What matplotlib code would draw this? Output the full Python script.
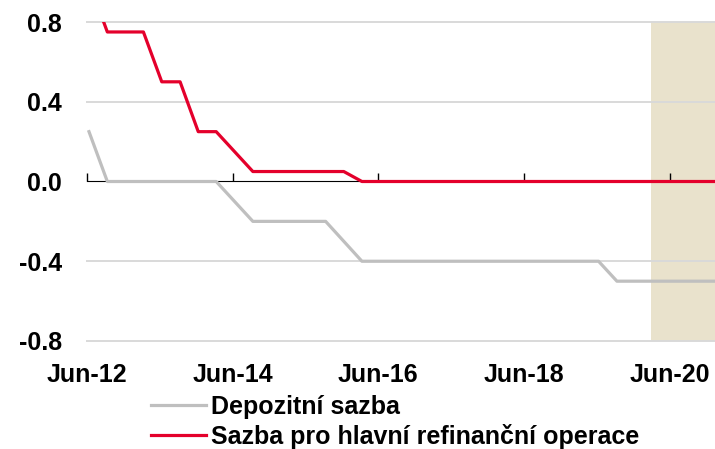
import matplotlib
matplotlib.use("Agg")
import matplotlib.pyplot as plt
import pandas as pd

plt.rcParams['font.family'] = ['Liberation Sans', 'DejaVu Sans']

# quarterly observations, Jun-12 .. Mar-21
dates = pd.date_range('2012-06-01', periods=36, freq='3MS') + pd.Timedelta(days=10)
mro = [1.0, 0.75, 0.75, 0.75, 0.5, 0.5, 0.25, 0.25, 0.15, 0.05,
       0.05, 0.05, 0.05, 0.05, 0.05, 0.0, 0.0, 0.0, 0.0, 0.0,
       0.0, 0.0, 0.0, 0.0, 0.0, 0.0, 0.0, 0.0, 0.0, 0.0,
       0.0, 0.0, 0.0, 0.0, 0.0, 0.0]
depo = [0.25, 0.0, 0.0, 0.0, 0.0, 0.0, 0.0, 0.0, -0.1, -0.2,
        -0.2, -0.2, -0.2, -0.2, -0.3, -0.4, -0.4, -0.4, -0.4, -0.4,
        -0.4, -0.4, -0.4, -0.4, -0.4, -0.4, -0.4, -0.4, -0.4, -0.5,
        -0.5, -0.5, -0.5, -0.5, -0.5, -0.5]
tick_dates = pd.to_datetime(['2012-06-01', '2014-06-01', '2016-06-01', '2018-06-01', '2020-06-01'])
tick_labels = ['Jun-12', 'Jun-14', 'Jun-16', 'Jun-18', 'Jun-20']
y_ticks = [-0.8, -0.4, 0.0, 0.4, 0.8]
shade_start = pd.Timestamp('2020-03-01')
x_end = pd.Timestamp('2021-01-15')

fig = plt.figure(figsize=(7.15, 4.49), dpi=100)
ax = fig.add_axes([87/715, 1-341/449, 1-87/715, (341-22)/449])

ax.axvspan(shade_start, x_end, color='#E9E2CC', zorder=0, lw=0)
ax.plot(dates, depo, color='#BFBFBF', lw=2.3, label='Depozitní sazba', zorder=3)
ax.plot(dates, mro, color='#E4002B', lw=2.3, label='Sazba pro hlavní refinanční operace', zorder=4)

ax.set_xlim(pd.Timestamp('2012-06-01'), x_end)
ax.set_ylim(-0.8, 0.8)
ax.set_yticks(y_ticks)
ax.set_yticklabels(['%.1f' % v for v in y_ticks])
ax.set_xticks(tick_dates)
ax.set_xticklabels(tick_labels)
ax.tick_params(axis='both', length=0, labelsize=18)
ax.tick_params(axis='x', pad=16)
ax.tick_params(axis='y', pad=18)
for lab in ax.get_xticklabels() + ax.get_yticklabels():
    lab.set_fontweight('bold')
for s in ax.spines.values():
    s.set_visible(False)

for v in [-0.8, -0.4, 0.4, 0.8]:
    ax.axhline(v, color='#D9D9D9', lw=1.4, zorder=1, clip_on=False)

# zero line with tick marks
sec = ax.secondary_xaxis(0.5)
sec.set_xticks(tick_dates)
sec.set_xticklabels([])
sec.tick_params(axis='x', direction='out', length=6, width=1, color='black')
sec.spines['bottom'].set_color('black')
sec.spines['bottom'].set_linewidth(1)

fig.legend(loc='upper left', bbox_to_anchor=(151/715, 1-395/449), frameon=False,
           prop={'size': 18, 'weight': 'bold'}, handlelength=2.2, handletextpad=0.2,
           labelspacing=0.2, borderpad=0, borderaxespad=0)

fig.savefig('out.png', dpi=100)
